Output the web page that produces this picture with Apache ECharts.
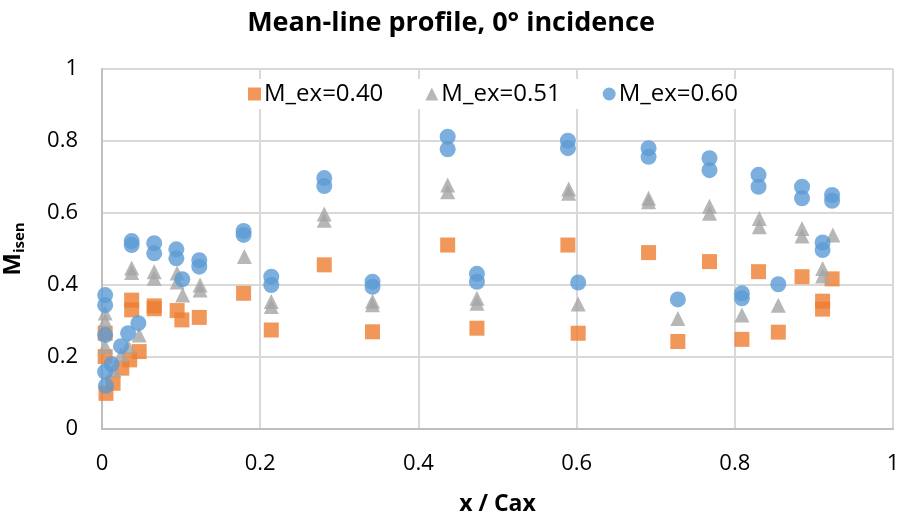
<!DOCTYPE html>
<html>
<head>
<meta charset="utf-8">
<script src="https://cdn.jsdelivr.net/npm/echarts@6/dist/echarts.min.js"></script>
<style>
  html, body { margin: 0; padding: 0; background: #fff; }
  #mychart { width: 902px; height: 520px; }
</style>
</head>
<body>
<div id="mychart"></div>
<script>
  // [x / Cax, M_isen]
  var mex040 = [
    [0.004, 0.266], [0.004, 0.201], [0.005, 0.099], [0.014, 0.127], [0.025, 0.169],
    [0.035, 0.192], [0.047, 0.215], [0.0375, 0.358], [0.0375, 0.331], [0.066, 0.342],
    [0.066, 0.334], [0.095, 0.329], [0.101, 0.303], [0.123, 0.31], [0.179, 0.377],
    [0.214, 0.275], [0.281, 0.456], [0.342, 0.27], [0.437, 0.511], [0.474, 0.28],
    [0.589, 0.511], [0.602, 0.266], [0.691, 0.49], [0.728, 0.243], [0.768, 0.465],
    [0.809, 0.249], [0.83, 0.437], [0.855, 0.269], [0.885, 0.423], [0.911, 0.355],
    [0.911, 0.333], [0.923, 0.417]
  ]
  var mex051 = [
    [0.004, 0.322], [0.004, 0.3], [0.004, 0.229], [0.015, 0.164], [0.024, 0.206],
    [0.033, 0.23], [0.047, 0.261], [0.0375, 0.447], [0.0375, 0.435], [0.066, 0.437],
    [0.066, 0.419], [0.095, 0.433], [0.095, 0.408], [0.102, 0.372], [0.124, 0.4],
    [0.124, 0.386], [0.18, 0.479], [0.214, 0.354], [0.214, 0.34], [0.281, 0.597],
    [0.281, 0.58], [0.342, 0.355], [0.342, 0.345], [0.437, 0.678], [0.437, 0.659],
    [0.474, 0.363], [0.474, 0.349], [0.59, 0.667], [0.59, 0.655], [0.602, 0.347],
    [0.691, 0.641], [0.691, 0.631], [0.728, 0.307], [0.768, 0.619], [0.768, 0.599],
    [0.809, 0.317], [0.831, 0.585], [0.831, 0.562], [0.855, 0.344], [0.885, 0.557],
    [0.885, 0.536], [0.911, 0.446], [0.911, 0.425], [0.924, 0.539]
  ]
  var mex060 = [
    [0.004, 0.372], [0.004, 0.344], [0.004, 0.261], [0.004, 0.159], [0.005, 0.12],
    [0.012, 0.18], [0.024, 0.23], [0.033, 0.266], [0.046, 0.294], [0.0375, 0.522],
    [0.0375, 0.511], [0.066, 0.516], [0.066, 0.488], [0.094, 0.499], [0.094, 0.474],
    [0.1015, 0.416], [0.123, 0.469], [0.123, 0.451], [0.179, 0.55], [0.179, 0.539],
    [0.214, 0.423], [0.214, 0.4], [0.281, 0.697], [0.281, 0.675], [0.342, 0.409],
    [0.342, 0.395], [0.437, 0.812], [0.437, 0.777], [0.474, 0.431], [0.474, 0.409],
    [0.589, 0.801], [0.589, 0.78], [0.602, 0.407], [0.691, 0.78], [0.691, 0.756],
    [0.728, 0.36], [0.768, 0.752], [0.768, 0.719], [0.809, 0.377], [0.809, 0.363],
    [0.83, 0.706], [0.83, 0.673], [0.855, 0.402], [0.885, 0.673], [0.885, 0.641],
    [0.911, 0.518], [0.911, 0.497], [0.923, 0.65], [0.923, 0.634]
  ]
  var seriesNames = ['M_ex=0.40', 'M_ex=0.51', 'M_ex=0.60']

  var font = "'Open Sans', sans-serif"

  var chart = echarts.init(document.getElementById('mychart'))
  chart.setOption({
    animation: false,
    textStyle: { fontFamily: font },
    color: ['#ED7D31', '#A5A5A5', '#5B9BD5'],
    title: {
      text: 'Mean-line profile, 0° incidence',
      left: 'center',
      top: 5,
      textStyle: { fontFamily: font, fontSize: 27, fontWeight: 'bold', color: '#000' }
    },
    legend: {
      left: 242,
      top: 79,
      itemGap: 42,
      itemWidth: 13,
      itemHeight: 13,
      backgroundColor: '#fff',
      padding: [3, 6],
      textStyle: { fontFamily: font, fontSize: 24, color: '#000', padding: [0, 0, 0, -2] },
      data: [
        { name: seriesNames[0], icon: 'rect' },
        { name: seriesNames[1], icon: 'triangle' },
        { name: seriesNames[2], icon: 'circle' }
      ]
    },
    grid: { left: 102, right: 9, top: 69, bottom: 91, outerBoundsMode: 'none' },
    xAxis: {
      type: 'value',
      min: 0,
      max: 1,
      interval: 0.2,
      name: 'x / Cax',
      nameLocation: 'middle',
      nameGap: 64,
      nameTextStyle: { fontFamily: font, fontSize: 23, fontWeight: 'bold', color: '#000' },
      axisLine: { show: true, lineStyle: { color: '#BFBFBF', width: 2 } },
      axisTick: { show: false },
      axisLabel: { fontFamily: font, fontSize: 22, color: '#000', margin: 24 },
      splitLine: { lineStyle: { color: '#D9D9D9', width: 2 } }
    },
    yAxis: {
      type: 'value',
      min: 0,
      max: 1,
      interval: 0.2,
      name: '{m|M}{s|isen}',
      nameLocation: 'middle',
      nameGap: 75,
      nameRotate: 90,
      nameTextStyle: {
        padding: [0, 0, 0, 0],
        rich: {
          m: { fontFamily: font, fontSize: 24, fontWeight: 'bold', color: '#000' },
          s: { fontFamily: font, fontSize: 15, fontWeight: 'bold', color: '#000', padding: [12, 0, 0, 0] }
        }
      },
      axisLine: { show: true, lineStyle: { color: '#BFBFBF', width: 2 } },
      axisTick: { show: false },
      axisLabel: { fontFamily: font, fontSize: 22, color: '#000', margin: 24 },
      splitLine: { lineStyle: { color: '#D9D9D9', width: 2 } }
    },
    series: [
      { name: seriesNames[0], type: 'scatter', symbol: 'rect', symbolSize: 15, data: mex040 },
      { name: seriesNames[1], type: 'scatter', symbol: 'triangle', symbolSize: 15, data: mex051 },
      { name: seriesNames[2], type: 'scatter', symbol: 'circle', symbolSize: 16, data: mex060 }
    ]
  })
</script>
</body>
</html>
